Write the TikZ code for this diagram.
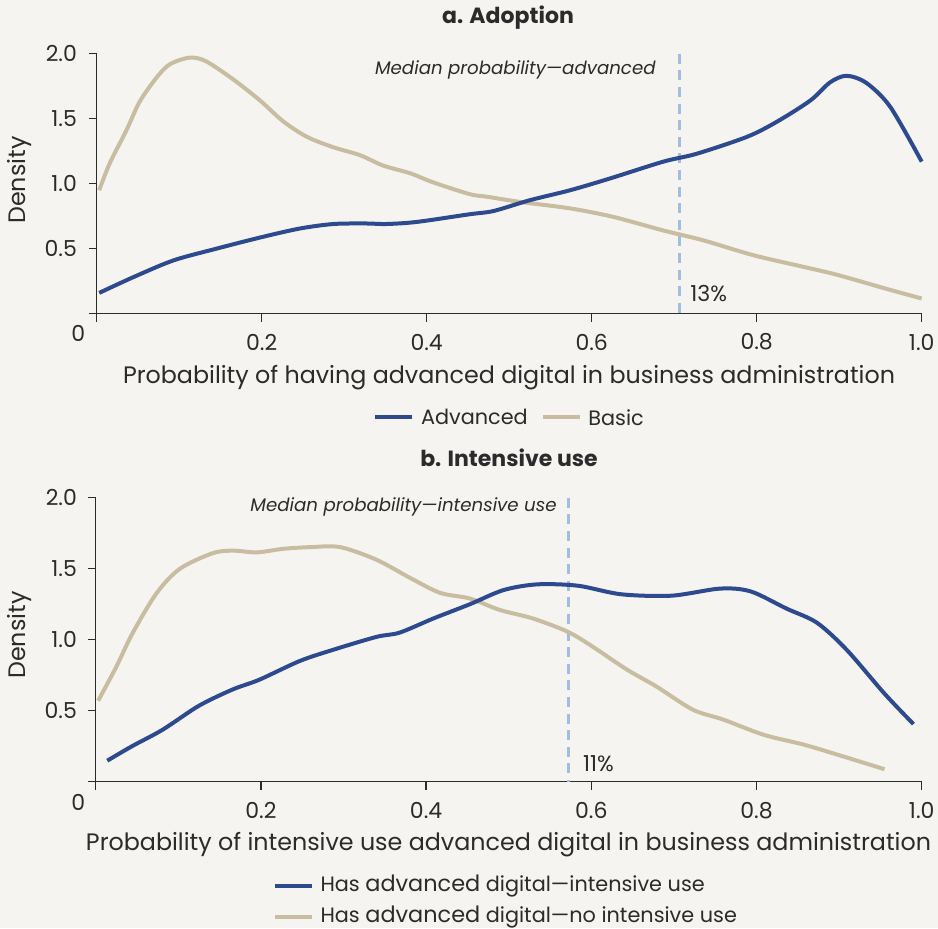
\documentclass[tikz,border=0pt]{standalone}
\usepackage{fontspec}
\setmainfont{Poppins}
\usetikzlibrary{positioning}
\definecolor{advblue}{HTML}{2E4A8E}
\definecolor{basictan}{HTML}{C8BDA1}
\definecolor{medblue}{HTML}{A2BCE2}
\definecolor{paper}{HTML}{F5F4F0}
\definecolor{ink}{HTML}{2B2B2B}
\tikzset{axisline/.style = {ink, line width=0.75pt},
         advline/.style = {advblue, line width=2pt, line join=round},
         basicline/.style = {basictan, line width=2pt, line join=round},
         medline/.style = {medblue, line width=1.5pt, dash pattern=on 5pt off 3.3pt},
         ticklbl/.style = {ink, inner sep=0pt, font=\fontsize{11}{13}\selectfont},
         axislbl/.style = {ink, inner sep=0pt, font=\fontsize{11.9}{14}\selectfont},
         paneltitle/.style = {ink, inner sep=0pt, font=\fontsize{11}{13}\selectfont\bfseries},
         medlbl/.style = {ink, inner sep=0pt, font=\fontsize{9.1}{11}\selectfont\itshape},
         legendlbl/.style = {ink, inner sep=0pt, anchor=west, font=\fontsize{10.4}{12}\selectfont}}

\begin{document}
\begin{tikzpicture}[x=0.5pt, y=-0.5pt]
\fill[paper] (0,0) rectangle (938,928);
\useasboundingbox (0,0) rectangle (938,928);

% a. Adoption
\node[paneltitle] (titlea) at (508,18) {a. Adoption};
\begin{scope}[shift={(96.7,313.7)}, x=412.5pt, y=65pt]
\draw[axisline] (0,2) -- (0,0) -- (1,0);
\draw[axisline] (0,0) -- ++(-4pt,0) (0,0) -- ++(0,-4pt);
\foreach \y/\t [count=\i] in {0.5/0.5,1/1.0,1.5/1.5,2/2.0} {
  \draw[axisline] (0,\y) -- ++(-4pt,0);
  \node[ticklbl, anchor=east] (ya\i) at ([xshift=-9.7pt]0,\y) {\t};
}
\foreach \x [count=\i] in {0.2,0.4,0.6,0.8,1.0} {
  \draw[axisline] (\x,0) -- ++(0,-4pt);
  \node[ticklbl] (xa\i) at ([yshift=-14.2pt]\x,0) {\x};
}
\node[ticklbl] (zeroa) at ([xshift=-9.2pt, yshift=-10pt]0,0) {0};
\coordinate (meda) at (0.706,2);
\coordinate (medabase) at (0.706,0);
\draw[medline] (meda) -- (medabase);
\draw[basicline] plot[smooth] coordinates {(0.003,0.95) (0.016,1.16) (0.036,1.41)
  (0.052,1.63) (0.073,1.82) (0.089,1.92) (0.113,1.97) (0.133,1.94) (0.166,1.80)
  (0.198,1.64) (0.226,1.48) (0.255,1.36) (0.287,1.28) (0.319,1.22) (0.347,1.14)
  (0.380,1.08) (0.408,1.01) (0.452,0.92) (0.473,0.90) (0.513,0.86) (0.574,0.81)
  (0.626,0.745) (0.687,0.64) (0.735,0.565) (0.796,0.45) (0.857,0.36) (0.897,0.30)
  (0.958,0.19) (1.0,0.117)};
\draw[advline] plot[smooth] coordinates {(0.003,0.16) (0.044,0.28) (0.093,0.41)
  (0.145,0.50) (0.198,0.586) (0.246,0.655) (0.287,0.69) (0.327,0.694) (0.351,0.69)
  (0.388,0.706) (0.452,0.765) (0.481,0.79) (0.525,0.873) (0.574,0.95) (0.622,1.04)
  (0.687,1.17) (0.727,1.23) (0.788,1.36) (0.824,1.475) (0.865,1.64) (0.889,1.78)
  (0.909,1.83) (0.933,1.775) (0.962,1.59) (1.0,1.17)};
\end{scope}
\node[medlbl, anchor=east] (medtexta) at (656,70) {Median probability—advanced};
\node[ticklbl, anchor=west] (pcta) at (690,293.5) {13\%};
\node[axislbl, rotate=90] (densa) at (20,180) {Density};
\node[axislbl] (xtitlea) at (509,377.3) {Probability of having advanced digital in business administration};
\coordinate (lga1) at (375,417.3);
\coordinate (lga2) at (411.7,417.3);
\coordinate (lga3) at (543,417.3);
\coordinate (lga4) at (580,417.3);
\draw[advline] (lga1) -- (lga2);
\node[legendlbl, right=4.5pt of lga2] (lgadv) {Advanced};
\draw[basicline] (lga3) -- (lga4);
\node[legendlbl, right=4pt of lga4] (lgbasic) {Basic};

% b. Intensive use
\node[paneltitle] (titleb) at (509,458) {b. Intensive use};
\begin{scope}[shift={(95.7,781.7)}, x=413pt, y=71pt]
\draw[axisline] (0,2) -- (0,0) -- (1,0);
\draw[axisline] (0,0) -- ++(-4pt,0) (0,0) -- ++(0,-4pt);
\foreach \y/\t [count=\i] in {0.5/0.5,1/1.0,1.5/1.5,2/2.0} {
  \draw[axisline] (0,\y) -- ++(-4pt,0);
  \node[ticklbl, anchor=east] (yb\i) at ([xshift=-9.2pt]0,\y) {\t};
}
\foreach \x [count=\i] in {0.2,0.4,0.6,0.8,1.0} {
  \draw[axisline] (\x,0) -- ++(0,-4pt);
  \node[ticklbl] (xb\i) at ([yshift=-14.5pt]\x,0) {\x};
}
\node[ticklbl] (zerob) at ([xshift=-8.7pt, yshift=-10.5pt]0,0) {0};
\coordinate (medb) at (0.572,2);
\coordinate (medbbase) at (0.572,0);
\draw[medline] (medb) -- (medbbase);
\draw[basicline] plot[smooth] coordinates {(0.003,0.57) (0.025,0.81) (0.045,1.05)
  (0.074,1.33) (0.102,1.50) (0.142,1.61) (0.167,1.627) (0.195,1.615) (0.227,1.64)
  (0.26,1.652) (0.296,1.652) (0.34,1.563) (0.381,1.434) (0.417,1.33) (0.453,1.29)
  (0.489,1.21) (0.529,1.15) (0.57,1.06) (0.598,0.965) (0.643,0.79) (0.679,0.67)
  (0.723,0.507) (0.76,0.437) (0.809,0.33) (0.858,0.26) (0.905,0.178) (0.955,0.088)};
\draw[advline] plot[smooth] coordinates {(0.014,0.148) (0.044,0.25) (0.081,0.366)
  (0.125,0.535) (0.166,0.65) (0.198,0.718) (0.247,0.85) (0.288,0.93) (0.34,1.02)
  (0.368,1.05) (0.409,1.15) (0.453,1.25) (0.494,1.35) (0.535,1.39) (0.584,1.38)
  (0.636,1.32) (0.697,1.31) (0.756,1.36) (0.793,1.34) (0.836,1.22) (0.873,1.12)
  (0.909,0.93) (0.955,0.62) (0.99,0.406)};
\end{scope}
\node[medlbl, anchor=east] (medtextb) at (557,506.7) {Median probability—intensive use};
\node[ticklbl, anchor=west] (pctb) at (582.7,763.3) {11\%};
\node[axislbl, rotate=90] (densb) at (20,635) {Density};
\node[axislbl] (xtitleb) at (508.5,845) {Probability of intensive use advanced digital in business administration};
\coordinate (lgb1) at (275,886);
\coordinate (lgb2) at (311.7,886);
\coordinate (lgb3) at (275,916.7);
\coordinate (lgb4) at (311.7,916.7);
\draw[advline] (lgb1) -- (lgb2);
\node[legendlbl, right=4.2pt of lgb2] (lgint) {Has {\fontsize{11.2}{13}\selectfont advanced} digital—intensive use};
\draw[basicline] (lgb3) -- (lgb4);
\node[legendlbl, right=4.2pt of lgb4] (lgnoint) {Has {\fontsize{11.2}{13}\selectfont advanced} digital—no intensive use};
\end{tikzpicture}
\end{document}
